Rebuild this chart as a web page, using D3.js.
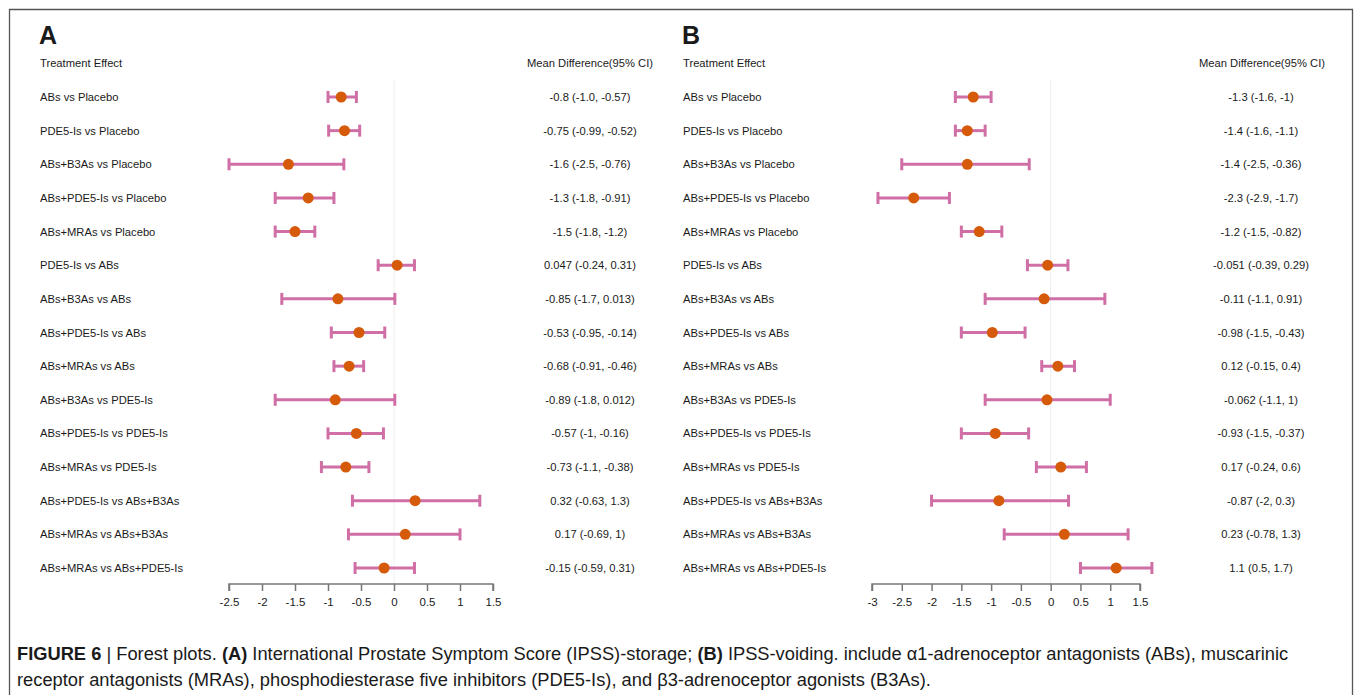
<!DOCTYPE html>
<html>
<head>
<meta charset="utf-8">
<title>Forest plots</title>
<script src="https://cdn.jsdelivr.net/npm/d3@7"></script>
<style>
  body { margin: 0; background: #fff; }
  svg text { font-family: "Liberation Sans", Arial, sans-serif; fill: #1a1a1a; }
</style>
</head>
<body>
<svg width="1355" height="695" id="mainsvg"></svg>
<script>
// comparisons (same order in both panels)
const comparisons = [
  'ABs vs Placebo', 'PDE5-Is vs Placebo', 'ABs+B3As vs Placebo', 'ABs+PDE5-Is vs Placebo',
  'ABs+MRAs vs Placebo', 'PDE5-Is vs ABs', 'ABs+B3As vs ABs', 'ABs+PDE5-Is vs ABs',
  'ABs+MRAs vs ABs', 'ABs+B3As vs PDE5-Is', 'ABs+PDE5-Is vs PDE5-Is', 'ABs+MRAs vs PDE5-Is',
  'ABs+PDE5-Is vs ABs+B3As', 'ABs+MRAs vs ABs+B3As', 'ABs+MRAs vs ABs+PDE5-Is'
]

// panel A: IPSS-storage
const meanA  = [-0.8, -0.75, -1.6, -1.3, -1.5, 0.047, -0.85, -0.53, -0.68, -0.89, -0.57, -0.73, 0.32, 0.17, -0.15]
const lowerA = [-1.0, -0.99, -2.5, -1.8, -1.8, -0.24, -1.7, -0.95, -0.91, -1.8, -1, -1.1, -0.63, -0.69, -0.59]
const upperA = [-0.57, -0.52, -0.76, -0.91, -1.2, 0.31, 0.013, -0.14, -0.46, 0.012, -0.16, -0.38, 1.3, 1, 0.31]
const textA = ['-0.8 (-1.0, -0.57)', '-0.75 (-0.99, -0.52)', '-1.6 (-2.5, -0.76)', '-1.3 (-1.8, -0.91)',
  '-1.5 (-1.8, -1.2)', '0.047 (-0.24, 0.31)', '-0.85 (-1.7, 0.013)', '-0.53 (-0.95, -0.14)',
  '-0.68 (-0.91, -0.46)', '-0.89 (-1.8, 0.012)', '-0.57 (-1, -0.16)', '-0.73 (-1.1, -0.38)',
  '0.32 (-0.63, 1.3)', '0.17 (-0.69, 1)', '-0.15 (-0.59, 0.31)']
const ticksA = [-2.5, -2, -1.5, -1, -0.5, 0, 0.5, 1, 1.5]

// panel B: IPSS-voiding
const meanB  = [-1.3, -1.4, -1.4, -2.3, -1.2, -0.051, -0.11, -0.98, 0.12, -0.062, -0.93, 0.17, -0.87, 0.23, 1.1]
const lowerB = [-1.6, -1.6, -2.5, -2.9, -1.5, -0.39, -1.1, -1.5, -0.15, -1.1, -1.5, -0.24, -2, -0.78, 0.5]
const upperB = [-1, -1.1, -0.36, -1.7, -0.82, 0.29, 0.91, -0.43, 0.4, 1, -0.37, 0.6, 0.3, 1.3, 1.7]
const textB = ['-1.3 (-1.6, -1)', '-1.4 (-1.6, -1.1)', '-1.4 (-2.5, -0.36)', '-2.3 (-2.9, -1.7)',
  '-1.2 (-1.5, -0.82)', '-0.051 (-0.39, 0.29)', '-0.11 (-1.1, 0.91)', '-0.98 (-1.5, -0.43)',
  '0.12 (-0.15, 0.4)', '-0.062 (-1.1, 1)', '-0.93 (-1.5, -0.37)', '0.17 (-0.24, 0.6)',
  '-0.87 (-2, 0.3)', '0.23 (-0.78, 1.3)', '1.1 (0.5, 1.7)']
const ticksB = [-3, -2.5, -2, -1.5, -1, -0.5, 0, 0.5, 1, 1.5]

const svg = d3.select('#mainsvg')

// frame
svg.append('path')
  .attr('d', 'M9.5,695 V9.5 H1352.5 V695')
  .attr('fill', 'none').attr('stroke', '#555').attr('stroke-width', 1.3)

const barColor = '#cf6fa6'
const dotColor = '#d55a0a'

const y = d3.scalePoint().domain(comparisons).range([97, 568])

const drawPanel = function(opt){
  const g = svg.append('g')
  const rows = comparisons.map((c, i) => ({name: c, m: opt.mean[i], lo: opt.lower[i], hi: opt.upper[i], txt: opt.text[i]}))
  const x = d3.scaleLinear().domain(opt.domain).range(opt.range)
  const fs = 11.2

  g.append('text').attr('x', opt.labelX - 1).attr('y', 44)
    .attr('font-size', 25).attr('font-weight', 'bold').text(opt.letter)
  g.append('text').attr('x', opt.labelX).attr('y', 67)
    .attr('font-size', fs).text('Treatment Effect')
  g.append('text').attr('x', opt.headX).attr('y', 67).attr('text-anchor', 'middle')
    .attr('font-size', fs).text('Mean Difference(95% CI)')

  // zero line
  g.append('line')
    .attr('x1', x(0)).attr('x2', x(0)).attr('y1', 80).attr('y2', 584)
    .attr('stroke', '#eeeeee').attr('stroke-width', 1)

  const row = g.selectAll('g.row').data(rows).join('g').attr('class', 'row')
    .attr('transform', d => `translate(0,${y(d.name)})`)

  row.append('text').attr('x', opt.labelX).attr('y', 4)
    .attr('font-size', fs).text(d => d.name)
  row.append('text').attr('x', opt.textX).attr('y', 4).attr('text-anchor', 'middle')
    .attr('font-size', fs).text(d => d.txt)

  row.append('line').attr('x1', d => x(d.lo)).attr('x2', d => x(d.hi))
    .attr('stroke', barColor).attr('stroke-width', 3)
  row.append('line').attr('x1', d => x(d.lo)).attr('x2', d => x(d.lo)).attr('y1', -6).attr('y2', 6)
    .attr('stroke', barColor).attr('stroke-width', 3)
  row.append('line').attr('x1', d => x(d.hi)).attr('x2', d => x(d.hi)).attr('y1', -6).attr('y2', 6)
    .attr('stroke', barColor).attr('stroke-width', 3)
  row.append('circle').attr('cx', d => x(d.m)).attr('r', 5.5).attr('fill', dotColor)

  const axis = g.append('g').attr('transform', 'translate(0,584)')
    .call(d3.axisBottom(x).tickValues(opt.ticks).tickSize(7).tickPadding(7).tickFormat(d => String(d)))
  axis.select('.domain').attr('stroke', '#777').attr('stroke-width', 1.5).attr('d', `M${x(opt.ticks[0])},7V0H${x(opt.ticks[opt.ticks.length - 1])}V7`)
  axis.selectAll('.tick line').attr('stroke', '#777').attr('stroke-width', 1.5)
  axis.selectAll('.tick text').attr('font-size', 11.5).attr('font-family', '"Liberation Sans", Arial, sans-serif').attr('fill', '#1a1a1a')
}

drawPanel({letter: 'A', mean: meanA, lower: lowerA, upper: upperA, text: textA, ticks: ticksA,
  domain: [-2.5, 1.5], range: [229, 493], labelX: 40, textX: 590, headX: 590})
drawPanel({letter: 'B', mean: meanB, lower: lowerB, upper: upperB, text: textB, ticks: ticksB,
  domain: [-3, 1.5], range: [872, 1140], labelX: 683, textX: 1261, headX: 1262})

// caption
const cap = svg.append('text').attr('x', 17).attr('y', 660).attr('font-size', 18.3)
cap.append('tspan').attr('font-weight', 'bold').text('FIGURE 6')
cap.append('tspan').text(' | Forest plots. ')
cap.append('tspan').attr('font-weight', 'bold').text('(A)')
cap.append('tspan').text(' International Prostate Symptom Score (IPSS)-storage; ')
cap.append('tspan').attr('font-weight', 'bold').text('(B)')
cap.append('tspan').text(' IPSS-voiding. include α1-adrenoceptor antagonists (ABs), muscarinic')
svg.append('text').attr('x', 17).attr('y', 686).attr('font-size', 18.3)
  .text('receptor antagonists (MRAs), phosphodiesterase five inhibitors (PDE5-Is), and β3-adrenoceptor agonists (B3As).')
</script>
</body>
</html>
